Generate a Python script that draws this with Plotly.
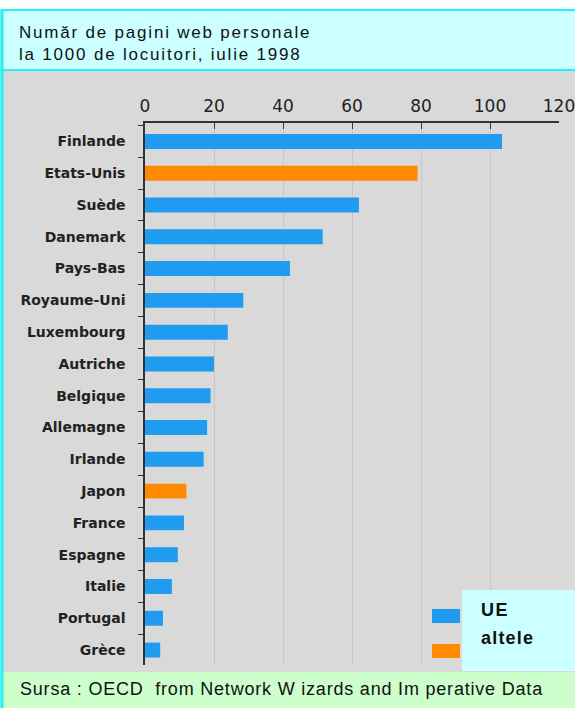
import plotly.graph_objects as go

COUNTRIES = [
    'Finlande', 'Etats-Unis', 'Suède', 'Danemark', 'Pays-Bas', 'Royaume-Uni',
    'Luxembourg', 'Autriche', 'Belgique', 'Allemagne', 'Irlande', 'Japon',
    'France', 'Espagne', 'Italie', 'Portugal', 'Grèce',
]
PAGES = [103.5, 79, 62, 51.5, 42, 28.5, 24, 20, 19, 18, 17, 12, 11.3, 9.5, 7.8, 5.2, 4.4]
GROUP = ['UE', 'altele', 'UE', 'UE', 'UE', 'UE', 'UE', 'UE', 'UE', 'UE', 'UE',
         'altele', 'UE', 'UE', 'UE', 'UE', 'UE']
X_TICKS = [0, 20, 40, 60, 80, 100, 120]

TITLE_LINES = ['Număr de pagini web personale', 'la 1000 de locuitori, iulie 1998']
SOURCE = 'Sursa : OECD  from Network W izards and Im perative Data'

COLORS = {'UE': '#1f9bef', 'altele': '#ff8a00'}
W, H = 575, 708
FONT = 'Liberation Sans, Arial'


def px_x(p):
    return p / W


def px_y(p):
    return 1 - p / H


def label(text, x, y, size, spacing):
    # spacing is applied afterwards in the page (letter-spacing of the scan's typeface)
    return dict(text=text, x=px_x(x), y=px_y(y), xref='paper', yref='paper',
                xanchor='left', yanchor='middle', align='left', showarrow=False,
                font=dict(family=FONT, size=size, color='#111'),
                name=f'ls{spacing}')


fig = go.Figure()
for grp in ['UE', 'altele']:
    xs = [v if g == grp else None for v, g in zip(PAGES, GROUP)]
    fig.add_trace(go.Bar(
        x=xs, y=COUNTRIES, orientation='h', name=grp,
        marker=dict(color=COLORS[grp], line=dict(width=0)),
        width=0.47, showlegend=False,
    ))

shapes = [
    dict(type='rect', xref='paper', yref='paper', x0=0, x1=1, y0=px_y(9), y1=1,
         fillcolor='white', line_width=0, layer='below'),
    # title box
    dict(type='rect', xref='paper', yref='paper', x0=px_x(2), x1=1.01, y0=px_y(70), y1=px_y(10),
         fillcolor='#ccffff', line=dict(color='#22f4f4', width=2), layer='below'),
    # footer box
    dict(type='rect', xref='paper', yref='paper', x0=px_x(2), x1=1.01, y0=-0.01, y1=px_y(672),
         fillcolor='#ccffcc', line_width=0, layer='below'),
    dict(type='line', xref='paper', yref='paper', x0=px_x(2), x1=px_x(2), y0=0, y1=px_y(10),
         line=dict(color='#22f4f4', width=3)),
    # legend
    dict(type='rect', xref='paper', yref='paper', x0=px_x(462), x1=1.01, y0=px_y(671), y1=px_y(590),
         fillcolor='#ccffff', line_width=0),
    dict(type='rect', xref='paper', yref='paper', x0=px_x(432), x1=px_x(460), y0=px_y(623), y1=px_y(609),
         fillcolor=COLORS['UE'], line_width=0),
    dict(type='rect', xref='paper', yref='paper', x0=px_x(432), x1=px_x(460), y0=px_y(658), y1=px_y(644),
         fillcolor=COLORS['altele'], line_width=0),
]

annotations = [
    label(TITLE_LINES[0], 17, 32, 17, 1.8),
    label(TITLE_LINES[1], 17, 55, 17, 1.8),
    label(SOURCE, 18, 689, 18, 0.8),
    label('<b>UE</b>', 479, 610, 18, 1.5),
    label('<b>altele</b>', 479, 638, 18, 1.2),
]

fig.update_layout(
    width=W, height=H, autosize=False,
    margin=dict(l=0, r=0, t=0, b=0),
    paper_bgcolor='#d9d9d9',
    plot_bgcolor='rgba(0,0,0,0)',
    barmode='overlay',
    shapes=shapes,
    annotations=annotations,
    xaxis=dict(
        domain=[px_x(145), px_x(559)], range=[0, 120], side='top', automargin=False,
        tickvals=X_TICKS, ticks='inside', ticklen=6, tickcolor='#333',
        showline=True, linecolor='#333', linewidth=1.5,
        showgrid=True, gridcolor='#c6c6c6', gridwidth=1, zeroline=False,
        tickfont=dict(family='DejaVu Sans', size=17, color='#222'),
        ticklabelstandoff=2, ticklabeloverflow='allow',
    ),
    yaxis=dict(
        domain=[px_y(665), px_y(123)], range=[16.47, -0.58], automargin=False,
        type='category', tickson='boundaries', ticks='outside', ticklen=5, tickcolor='#333',
        showline=True, linecolor='#333', linewidth=1.5, showgrid=False,
        tickfont=dict(family='DejaVu Sans', size=14, color='#222', weight='bold'),
        ticklabelstandoff=15,
    ),
)

post = """
document.body.style.margin = '0';
var gd = document.getElementById('{plot_id}');
var anns = gd.layout.annotations;
gd.querySelectorAll('g.annotation').forEach(function (g) {
    var i = +g.getAttribute('data-index');
    var sp = (anns[i].name || '').replace('ls', '');
    var t = g.querySelector('text.annotation-text');
    if (t && sp) { t.style.letterSpacing = sp + 'px'; }
});
"""

fig.write_html('out.html', post_script=post, config={'displayModeBar': False})
